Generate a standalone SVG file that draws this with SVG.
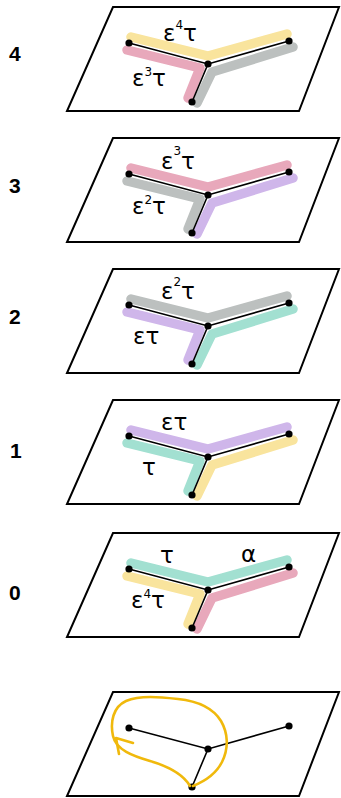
<svg xmlns="http://www.w3.org/2000/svg" width="341" height="798" viewBox="0 0 341 798">
  <style>
    .plane { fill: #ffffff; stroke: #000000; stroke-width: 2; stroke-linejoin: miter; }
    .band { fill: none; stroke-width: 9.5; stroke-linecap: round; stroke-linejoin: round; }
    .edge { fill: none; stroke: #000000; stroke-width: 1.6; stroke-linecap: round; }
    .dot { fill: #000000; }
    .yellow { stroke: #f9e49d; }
    .pink { stroke: #e8a8bb; }
    .grey { stroke: #bcc0bf; }
    .purple { stroke: #cfb6ea; }
    .teal { stroke: #a2e0d1; }
    .lbl { font-family: "DejaVu Sans", "Noto Sans", sans-serif; font-size: 23px; fill: #000000; }
    .sup { font-size: 12px; }
    .row { font-family: "Liberation Sans", "DejaVu Sans", sans-serif; font-size: 21px; font-weight: bold; fill: #000000; }
    .loop { fill: none; stroke: #f0b90c; stroke-width: 2.6; stroke-linecap: round; stroke-linejoin: round; }
  </style>
  <defs>
    <!-- shared plane and tree skeleton -->
    <polygon id="plane" class="plane" points="113,7 339,7 299,111 67,111"/>
    <path id="upper" d="M131,37 L208,56 L287,34"/>
    <path id="lowleft" d="M127,50 L200,68 L188,98"/>
    <path id="lowright" d="M293,47 L212,72 L197,103"/>
    <g id="tree">
      <path class="edge" d="M129,43 L208,64 L289,41 M208,64 L192,102"/>
      <circle class="dot" cx="129" cy="43" r="3.6"/>
      <circle class="dot" cx="208" cy="64" r="3.6"/>
      <circle class="dot" cx="289" cy="41" r="3.6"/>
      <circle class="dot" cx="192" cy="102" r="3.6"/>
    </g>
  </defs>

  <!-- row numbers -->
  <g id="row-labels">
    <text class="row" x="9" y="61">4</text>
    <text class="row" x="9" y="193">3</text>
    <text class="row" x="9" y="324">2</text>
    <text class="row" x="10" y="458">1</text>
    <text class="row" x="9" y="600">0</text>
  </g>

  <!-- level 4 -->
  <g id="level-4">
    <use href="#plane"/>
    <use href="#lowleft" class="band pink"/>
    <use href="#lowright" class="band grey"/>
    <use href="#upper" class="band yellow"/>
    <use href="#tree"/>
    <text class="lbl" x="163" y="41">ε<tspan class="sup" dy="-12">4</tspan><tspan dy="12">τ</tspan></text>
    <text class="lbl" x="132" y="86">ε<tspan class="sup" dy="-10">3</tspan><tspan dy="10">τ</tspan></text>
  </g>

  <!-- level 3 -->
  <g id="level-3" transform="translate(0,131)">
    <use href="#plane"/>
    <use href="#lowleft" class="band grey"/>
    <use href="#lowright" class="band purple"/>
    <use href="#upper" class="band pink"/>
    <use href="#tree"/>
    <text class="lbl" x="161" y="38">ε<tspan class="sup" dy="-14">3</tspan><tspan dy="14">τ</tspan></text>
    <text class="lbl" x="132" y="83">ε<tspan class="sup" dy="-10">2</tspan><tspan dy="10">τ</tspan></text>
  </g>

  <!-- level 2 -->
  <g id="level-2" transform="translate(0,262)">
    <use href="#plane"/>
    <use href="#lowleft" class="band purple"/>
    <use href="#lowright" class="band teal"/>
    <use href="#upper" class="band grey"/>
    <use href="#tree"/>
    <text class="lbl" x="161" y="37">ε<tspan class="sup" dy="-13">2</tspan><tspan dy="13">τ</tspan></text>
    <text class="lbl" x="133" y="82">ετ</text>
  </g>

  <!-- level 1 -->
  <g id="level-1" transform="translate(0,393)">
    <use href="#plane"/>
    <use href="#lowleft" class="band teal"/>
    <use href="#lowright" class="band yellow"/>
    <use href="#upper" class="band purple"/>
    <use href="#tree"/>
    <text class="lbl" x="161" y="37">ετ</text>
    <text class="lbl" x="142" y="82">τ</text>
  </g>

  <!-- level 0 -->
  <g id="level-0" transform="translate(0,526)">
    <use href="#plane"/>
    <use href="#lowleft" class="band yellow"/>
    <use href="#lowright" class="band pink"/>
    <use href="#upper" class="band teal"/>
    <use href="#tree"/>
    <text class="lbl" x="160" y="37">τ</text>
    <text class="lbl" x="241" y="36">α</text>
    <text class="lbl" x="131" y="82">ε<tspan class="sup" dy="-10">4</tspan><tspan dy="10">τ</tspan></text>
  </g>

  <!-- bare tree with loop around the left branch -->
  <g id="loop-panel" transform="translate(0,685)">
    <use href="#plane"/>
    <use href="#tree"/>
  </g>
  <g id="connectors">
    <path class="loop" d="M193,786 C203,782 216,774 222,762 C229,748 228,733 221,721 C213,708 197,701 178,699 C160,697 140,695 126,701 C113,707 110,722 113,736 C116,750 133,756 150,761 C167,766 183,774 190,786"/>
    <path class="loop" d="M119,754 L116,738 L133,743"/>
  </g>
</svg>
